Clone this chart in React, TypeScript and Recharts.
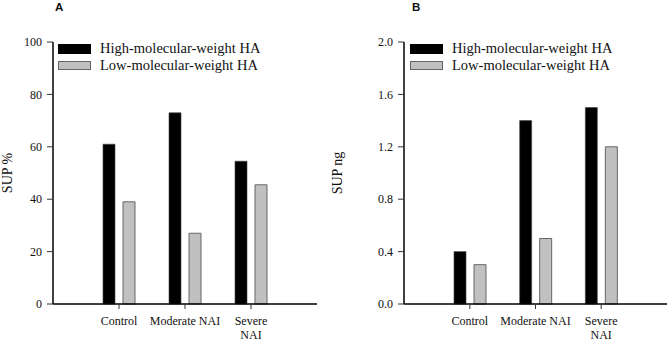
import {
  BarChart,
  Bar,
  XAxis,
  YAxis,
  Legend,
  Label,
} from 'recharts';

// groups along the x axis ("\n" splits a tick label onto two lines)
const groups = ['Control', 'Moderate NAI', 'Severe\nNAI'];

// panel A: SUP %
const highPercent = [61, 73, 54.5];
const lowPercent = [39, 27, 45.5];
const percentTicks = [0, 20, 40, 60, 80, 100];

// panel B: SUP ng
const highNg = [0.4, 1.4, 1.5];
const lowNg = [0.3, 0.5, 1.2];
const ngTicks = [0, 0.4, 0.8, 1.2, 1.6, 2.0];

const seriesNames = ['High-molecular-weight HA', 'Low-molecular-weight HA'];

const SERIF = '"Liberation Serif", "Times New Roman", serif';
const SANS = '"Liberation Sans", Arial, sans-serif';

const percentData = groups.map((g, i) => ({
  group: g,
  high: highPercent[i],
  low: lowPercent[i],
}));

const ngData = groups.map((g, i) => ({
  group: g,
  high: highNg[i],
  low: lowNg[i],
}));

function GroupTick(props: any) {
  const { x, y, payload } = props;
  const lines = String(payload.value).split('\n');
  return (
    <text
      x={x}
      y={y}
      textAnchor="middle"
      style={{ fontFamily: SERIF, fontSize: 12, fill: '#111' }}
    >
      {lines.map((line, i) => (
        <tspan key={i} x={x} dy={i === 0 ? '0.71em' : 14}>
          {line}
        </tspan>
      ))}
    </text>
  );
}

function ValueTick(props: any) {
  const { x, y, payload, fmt } = props;
  return (
    <text
      x={x}
      y={y}
      dy="0.35em"
      textAnchor="end"
      style={{ fontFamily: SERIF, fontSize: 12, fill: '#111' }}
    >
      {fmt(payload.value)}
    </text>
  );
}

function LegendBox() {
  const swatches = [
    { fill: '#000', stroke: '#000', h: 10 },
    { fill: '#c0c0c0', stroke: '#666', h: 9 },
  ];
  return (
    <div style={{ fontFamily: SERIF, fontSize: 14.5, color: '#111' }}>
      {seriesNames.map((name, i) => (
        <div
          key={name}
          style={{ display: 'flex', alignItems: 'center', height: 17 }}
        >
          <span
            style={{
              display: 'inline-block',
              width: 33,
              height: swatches[i].h,
              boxSizing: 'border-box',
              background: swatches[i].fill,
              border: `1px solid ${swatches[i].stroke}`,
              marginRight: 9,
            }}
          />
          <span style={{ whiteSpace: 'nowrap' }}>{name}</span>
        </div>
      ))}
    </div>
  );
}

function axisTitle(text: string, x: number) {
  return (props: any) => {
    const vb = props.viewBox || {};
    const cy = vb.y + vb.height / 2;
    return (
      <text
        x={x}
        y={cy}
        transform={`rotate(-90, ${x}, ${cy})`}
        textAnchor="middle"
        style={{ fontFamily: SERIF, fontSize: 14, fill: '#111' }}
      >
        {text}
      </text>
    );
  };
}

type PanelProps = {
  data: { group: string; high: number; low: number }[];
  width: number;
  axisWidth: number;
  rightMargin: number;
  domain: [number, number];
  ticks: number[];
  fmt: (v: number) => string;
  title: string;
  titleX: number;
  legendLeft: number;
};

function Panel(p: PanelProps) {
  return (
    <BarChart
      width={p.width}
      height={341}
      data={p.data}
      margin={{ top: 42, right: p.rightMargin, bottom: 0, left: 0 }}
      barSize={12}
      barGap={8}
    >
      <XAxis
        dataKey="group"
        height={37}
        padding={{ left: 33, right: 33 }}
        axisLine={{ stroke: '#000', strokeWidth: 1.5 }}
        tickLine={{ stroke: '#333' }}
        tickSize={5}
        tickMargin={7}
        interval={0}
        tick={<GroupTick />}
      />
      <YAxis
        width={p.axisWidth}
        domain={p.domain}
        ticks={p.ticks}
        axisLine={{ stroke: '#000', strokeWidth: 1.5 }}
        tickLine={{ stroke: '#333' }}
        tickSize={6}
        tickMargin={5}
        interval={0}
        tick={<ValueTick fmt={p.fmt} />}
      >
        <Label content={axisTitle(p.title, p.titleX)} />
      </YAxis>
      <Legend
        layout="horizontal"
        align="center"
        verticalAlign="middle"
        content={<LegendBox />}
        wrapperStyle={{ left: p.legendLeft, top: 40, width: 'auto' }}
      />
      <Bar
        dataKey="high"
        name={seriesNames[0]}
        fill="#000"
        stroke="#444"
        strokeWidth={0.6}
        isAnimationActive={false}
      />
      <Bar
        dataKey="low"
        name={seriesNames[1]}
        fill="#c0c0c0"
        stroke="#666"
        strokeWidth={1}
        isAnimationActive={false}
      />
    </BarChart>
  );
}

const panelLetter = (x: number): React.CSSProperties => ({
  position: 'absolute',
  left: x,
  top: 1,
  fontFamily: SANS,
  fontWeight: 'bold',
  fontSize: 11.5,
  color: '#111',
});

export default function App() {
  return (
    <div
      style={{
        position: 'absolute',
        left: 0,
        top: 0,
        width: 669,
        height: 341,
        background: '#fff',
        overflow: 'hidden',
      }}
    >
      <div style={{ position: 'absolute', left: 0, top: 0 }}>
        <Panel
          data={percentData}
          width={325}
          axisWidth={53}
          rightMargin={8}
          domain={[0, 100]}
          ticks={percentTicks}
          fmt={(v) => String(v)}
          title="SUP %"
          titleX={12}
          legendLeft={58}
        />
      </div>
      <div style={{ position: 'absolute', left: 325, top: 0 }}>
        <Panel
          data={ngData}
          width={344}
          axisWidth={79}
          rightMargin={2}
          domain={[0, 2]}
          ticks={ngTicks}
          fmt={(v) => v.toFixed(1)}
          title="SUP ng"
          titleX={17}
          legendLeft={85}
        />
      </div>
      <div style={panelLetter(55)}>A</div>
      <div style={panelLetter(412)}>B</div>
    </div>
  );
}
